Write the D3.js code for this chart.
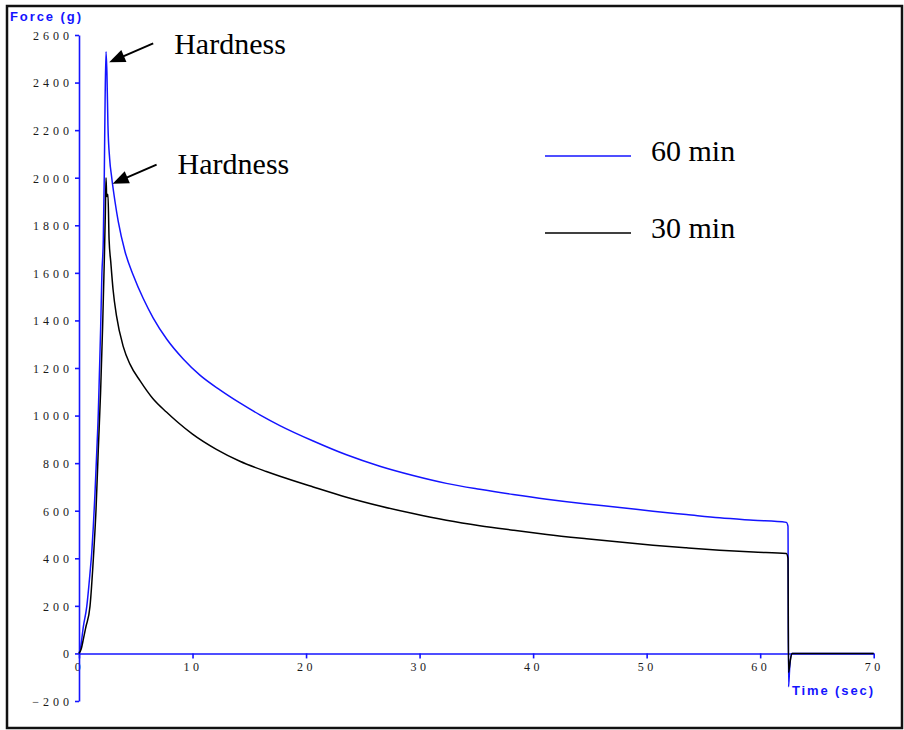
<!DOCTYPE html>
<html>
<head>
<meta charset="utf-8">
<script src="https://cdn.jsdelivr.net/npm/d3@7/dist/d3.min.js"></script>
<style>
  html, body { margin: 0; padding: 0; background: #fff; }
  svg { display: block; }
</style>
</head>
<body>
<svg id="chart" width="904" height="730"></svg>
<script>
// Texture analyser force/time traces for two mixing times
const seriesNames = ["60 min", "30 min"];
const seriesColors = ["#1414ff", "#000000"];

// 60 min trace: time (s) and force (g)
const time60 = [0, 0.15, 0.38, 0.68, 0.97, 1.12, 1.26, 1.41, 1.56, 1.7, 1.79, 1.91, 2.02, 2.14, 2.23, 2.3, 2.38,
  2.46, 2.55, 2.7, 2.87, 3.17, 3.46, 4.05, 4.78, 5.66, 6.54, 7.72, 9.18, 10.65, 12.41, 14.17, 15.93, 17.69,
  20.63, 23.56, 26.5, 29.43, 32.36, 35.3, 38.24, 41.2, 44.7, 47.63, 50.56, 53.5, 56.43, 59.4, 62.3, 62.45,
  62.5, 62.6, 62.8, 70];
const force60 = [0, 28, 112, 196, 338, 422, 532, 675, 843, 1011, 1163, 1373, 1600, 1739, 2020, 2330, 2530,
  2440, 2220, 2080, 2005, 1900, 1815, 1690, 1590, 1492, 1410, 1322, 1238, 1170, 1108, 1053, 1003, 958,
  893, 835, 787, 748, 715, 690, 668, 648, 628, 614, 598, 584, 570, 560, 551, 535,
  -140, -60, 0, 0];

// 30 min trace: time (s) and force (g)
const time30 = [0, 0.2, 0.38, 0.6, 0.97, 1.26, 1.5, 1.7, 1.9, 2.08, 2.23, 2.32, 2.38, 2.44, 2.55, 2.65, 2.8,
  3.0, 3.3, 3.9, 4.5, 5.4, 6.5, 7.7, 8.7, 10.0, 12.1, 14.17, 16.5, 17.7, 20.63, 23.56, 26.5, 29.43, 32.36,
  35.3, 38.24, 41.2, 44.7, 47.63, 50.56, 53.5, 56.43, 59.4, 62.3, 62.45, 62.5, 62.65, 62.8, 70];
const force30 = [0, 20, 59, 110, 199, 395, 605, 857, 1096, 1373, 1655, 1850, 2000, 1921, 1930, 1740, 1645,
  1530, 1420, 1290, 1215, 1145, 1072, 1015, 972, 922, 858, 808, 765, 745, 700, 657, 620, 588, 560,
  537, 518, 500, 482, 468, 455, 444, 434, 426, 420, 400, -80, -30, 0, 0];

const timeTicks = [0, 10, 20, 30, 40, 50, 60, 70];
const forceTicks = [-200, 0, 200, 400, 600, 800, 1000, 1200, 1400, 1600, 1800, 2000, 2200, 2400, 2600];

// Peak annotations: arrow tip in data units, label beside it
const annoLabels = ["Hardness", "Hardness"];
const annoTipT = [2.66, 2.96];
const annoTipF = [2485, 1975];

const axisBlue = "#1414ff";
const svg = d3.select("#chart");

const x = d3.scaleLinear().domain([0, 70]).range([79, 873.7]);
const y = d3.scaleLinear().domain([-200, 2600]).range([701, 35]);

// outer frame
svg.append("rect")
  .attr("x", 7).attr("y", 6).attr("width", 895).attr("height", 722)
  .attr("fill", "none").attr("stroke", "#111").attr("stroke-width", 2.5);

// axes
const xAxis = svg.append("g")
  .attr("transform", `translate(0,${y(0)})`)
  .call(d3.axisBottom(x).tickValues(timeTicks).tickSize(5).tickSizeOuter(0).tickPadding(4)
    .tickFormat(d3.format("d")));
const yAxis = svg.append("g")
  .attr("transform", `translate(${x(0)},0)`)
  .call(d3.axisLeft(y).tickValues(forceTicks).tickSize(4).tickSizeOuter(0).tickPadding(2)
    .tickFormat(d3.format("d")));

[xAxis, yAxis].forEach(g => {
  g.attr("font-family", "'Liberation Serif', 'Times New Roman', serif").attr("font-size", 12);
  g.select(".domain").attr("stroke", axisBlue).attr("stroke-width", 1.6);
  g.selectAll(".tick line").attr("stroke", axisBlue).attr("stroke-width", 1.6);
  g.selectAll(".tick text")
    .attr("fill", "#1a1a1a")
    .style("font-family", "'Liberation Serif', 'Times New Roman', serif")
    .style("font-size", "12px");
});
xAxis.selectAll(".tick text").style("letter-spacing", "3.5px");
yAxis.selectAll(".tick text").style("letter-spacing", "4px").attr("dy", "0.36em");

// axis titles
svg.append("text")
  .attr("x", 10).attr("y", 21)
  .attr("fill", axisBlue)
  .style("font-family", "'Liberation Sans', Arial, sans-serif")
  .style("font-weight", "bold").style("font-size", "13px")
  .attr("textLength", 71).attr("lengthAdjust", "spacing")
  .text("Force (g)");
svg.append("text")
  .attr("x", 792).attr("y", 695)
  .attr("fill", axisBlue)
  .style("font-family", "'Liberation Sans', Arial, sans-serif")
  .style("font-weight", "bold").style("font-size", "13px")
  .attr("textLength", 81).attr("lengthAdjust", "spacing")
  .text("Time (sec)");

// force traces (30 min drawn last, on top)
const line = d3.line().curve(d3.curveMonotoneX).x(d => x(d[0])).y(d => y(d[1]));
const traces = [d3.zip(time60, force60), d3.zip(time30, force30)];
traces.forEach((pts, i) => {
  svg.append("path")
    .datum(pts)
    .attr("d", line)
    .attr("fill", "none")
    .attr("stroke", seriesColors[i])
    .attr("stroke-width", 1.5)
    .attr("stroke-linejoin", "round");
});

// legend
const legendY = [156, 233];
seriesNames.forEach((name, i) => {
  svg.append("line")
    .attr("x1", 545).attr("x2", 631)
    .attr("y1", legendY[i]).attr("y2", legendY[i])
    .attr("stroke", seriesColors[i]).attr("stroke-width", 1.6);
  svg.append("text")
    .attr("x", 651).attr("y", legendY[i] + 4.5)
    .attr("fill", "#000")
    .style("font-family", "'Liberation Serif', 'Times New Roman', serif")
    .style("font-size", "30px")
    .text(name);
});

// hardness arrows and labels
annoLabels.forEach((label, i) => {
  const tip = [x(annoTipT[i]), y(annoTipF[i])];
  const tail = [tip[0] + 44, tip[1] - 19];
  const dx = tip[0] - tail[0], dy = tip[1] - tail[1];
  const len = Math.hypot(dx, dy);
  const ux = dx / len, uy = dy / len;
  const headL = 16, headW = 6.5;
  const base = [tip[0] - ux * headL, tip[1] - uy * headL];
  svg.append("line")
    .attr("x1", tail[0]).attr("y1", tail[1])
    .attr("x2", base[0] + ux * 2).attr("y2", base[1] + uy * 2)
    .attr("stroke", "#000").attr("stroke-width", 2);
  svg.append("polygon")
    .attr("points", [
      tip,
      [base[0] - uy * headW, base[1] + ux * headW],
      [base[0] + uy * headW, base[1] - ux * headW]
    ].map(p => p.join(",")).join(" "))
    .attr("fill", "#000");
  svg.append("text")
    .attr("x", tip[0] + 65).attr("y", tip[1] - 8 + (i === 1 ? -2 : 0))
    .attr("fill", "#000")
    .style("font-family", "'Liberation Serif', 'Times New Roman', serif")
    .style("font-size", "30px")
    .text(label);
});
</script>
</body>
</html>
